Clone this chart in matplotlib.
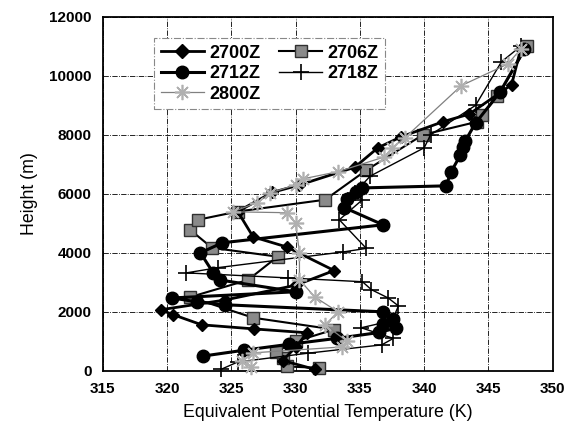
import matplotlib.pyplot as plt
from matplotlib.lines import Line2D

# theta-e profiles (K) against height (m) for each sounding time
t_2700 = [331.5, 329.0, 330.0, 330.9, 326.8, 322.7, 320.5, 319.5, 324.5, 330.0, 333.0,
          329.3, 326.7, 325.5, 328.2, 330.3, 334.6, 336.4, 338.2, 341.5, 343.5, 346.8, 347.5]
h_2700 = [50, 350, 800, 1290, 1420, 1560, 1900, 2070, 2400, 2900, 3400,
          4200, 4540, 5400, 6050, 6300, 6900, 7560, 7930, 8450, 8700, 9700, 10900]

t_2706 = [331.8, 329.3, 329.0, 328.5, 330.0, 333.0, 326.7, 321.8, 326.3, 328.6,
          323.5, 321.8, 322.4, 325.5, 332.3, 335.5, 339.9, 344.1, 344.5, 345.7, 348.0]
h_2706 = [100, 150, 450, 650, 1000, 1400, 1800, 2500, 3080, 3870,
          4170, 4780, 5120, 5400, 5800, 6800, 8000, 8440, 8680, 9300, 11000]

t_2712 = [322.8, 326.0, 329.5, 333.2, 336.5, 337.8, 336.8, 337.6, 336.8, 324.5, 322.3,
          320.4, 330.0, 324.1, 323.6, 322.6, 324.3, 336.8, 333.8, 334.0, 334.7, 335.2,
          341.7, 342.1, 342.8, 343.0, 343.2, 344.0, 345.9, 347.8]
h_2712 = [500, 700, 900, 1100, 1300, 1450, 1600, 1750, 2000, 2240, 2340,
          2470, 2680, 3080, 3320, 4000, 4340, 4950, 5530, 5830, 6070, 6200,
          6270, 6750, 7300, 7600, 7800, 8400, 9450, 10900]

t_2718 = [324.2, 325.5, 331.0, 336.7, 337.6, 335.1, 337.5, 338.0, 337.2, 335.9, 335.2,
          329.4, 321.5, 324.0, 333.7, 335.5, 333.4, 335.2, 334.6, 335.8, 340.0, 340.5,
          344.0, 346.0, 347.5]
h_2718 = [50, 300, 600, 880, 1100, 1460, 1700, 2200, 2470, 2750, 3020,
          3150, 3320, 3500, 4030, 4150, 5120, 5800, 6030, 6600, 7560, 8000,
          9000, 10470, 11000]

t_2800 = [326.5, 325.8, 326.7, 333.6, 334.0, 332.3, 333.3, 331.5, 330.3, 330.3, 330.0,
          329.3, 325.1, 327.0, 328.0, 330.0, 330.6, 333.3, 336.9, 337.5, 338.5, 342.9,
          346.5, 347.5]
h_2800 = [140, 350, 610, 810, 1000, 1560, 2000, 2500, 3090, 4000, 5000,
          5360, 5390, 5700, 6030, 6300, 6510, 6750, 7250, 7560, 7900, 9670,
          10400, 10900]

labels = ['2700Z', '2706Z', '2712Z', '2718Z', '2800Z']

plt.rcParams['font.family'] = ['Liberation Sans', 'DejaVu Sans']

fig = plt.figure(figsize=(5.77, 4.42), dpi=100)
ax = fig.add_axes([0.178, 0.161, 0.78, 0.801])

ax.plot(t_2700, h_2700, color='black', lw=2.0, marker='D', ms=6,
        mfc='black', mec='black', clip_on=False, zorder=4)
ax.plot(t_2706, h_2706, color='black', lw=1.5, marker='s', ms=8,
        mfc='#8a8a8a', mec='#303030', mew=1.0, clip_on=False, zorder=3)
ax.plot(t_2712, h_2712, color='black', lw=2.2, marker='o', ms=9,
        mfc='black', mec='black', clip_on=False, zorder=4)
ax.plot(t_2718, h_2718, color='black', lw=1.0, marker='+', ms=11, mew=1.2,
        clip_on=False, zorder=5)
ax.plot(t_2800, h_2800, color='#808080', lw=0.9, marker=(8, 2, 0), ms=11,
        mec='#b0b0b0', mew=1.2, clip_on=False, zorder=5)

ax.set_xlim(315, 350)
ax.set_ylim(0, 12000)
ax.set_xticks(range(315, 351, 5))
ax.set_yticks(range(0, 12001, 2000))
ax.tick_params(length=0, labelsize=11, pad=8)
for lab in ax.get_xticklabels() + ax.get_yticklabels():
    lab.set_fontweight('bold')
ax.grid(True, color='black', lw=0.6, ls='-.')
ax.set_axisbelow(True)
for sp in ax.spines.values():
    sp.set_linewidth(1.3)

ax.set_xlabel('Equivalent Potential Temperature (K)', fontsize=12.8, labelpad=6)
ax.set_ylabel('Height (m)', fontsize=12.8, labelpad=8)

handles = [
    Line2D([], [], color='black', lw=2.0, marker='D', ms=7, mfc='black'),
    Line2D([], [], color='black', lw=1.5, marker='s', ms=8, mfc='#8a8a8a', mec='#303030'),
    Line2D([], [], color='black', lw=2.2, marker='o', ms=9, mfc='black'),
    Line2D([], [], color='black', lw=1.0, marker='+', ms=11, mew=1.2),
    Line2D([], [], color='#808080', lw=0.9, marker=(8, 2, 0), ms=11, mec='#b0b0b0', mew=1.2),
]
order = [0, 2, 4, 1, 3]
leg = ax.legend([handles[i] for i in order], [labels[i] for i in order],
                ncol=2, loc='upper left', bbox_to_anchor=(0.095, 0.965),
                prop={'weight': 'bold', 'size': 13}, handlelength=2.4,
                handletextpad=0.3, columnspacing=1.0, labelspacing=0.2,
                borderpad=0.35, fancybox=False, framealpha=1.0)
leg.get_frame().set_edgecolor('#888888')
leg.get_frame().set_linestyle('-.')
leg.get_frame().set_linewidth(0.8)

fig.savefig('out.png', dpi=100)
